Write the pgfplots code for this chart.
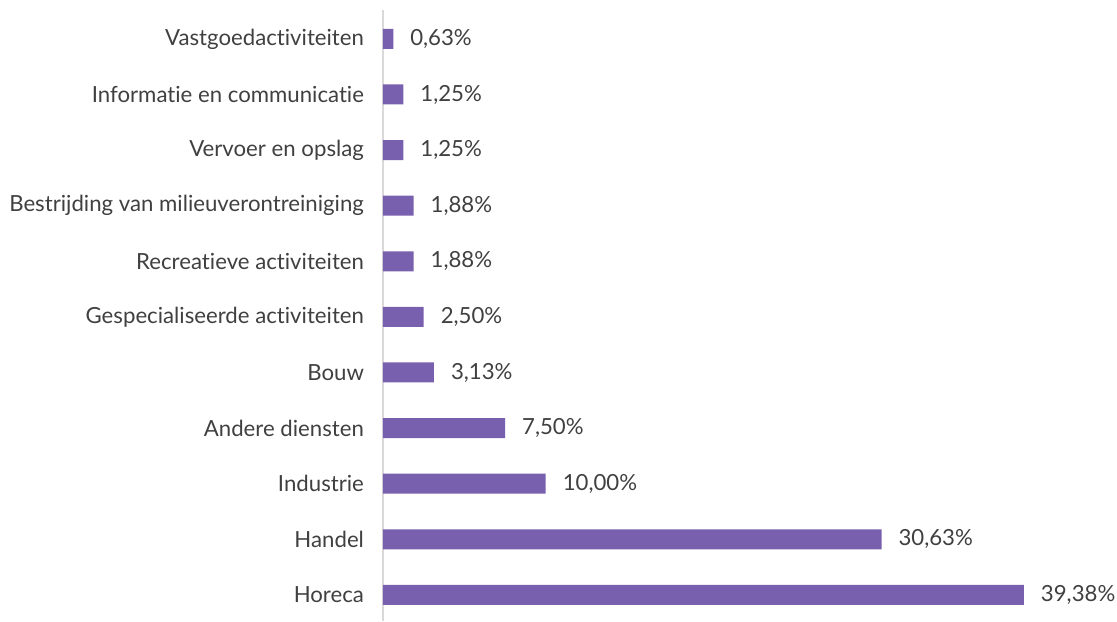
\documentclass[border=0pt]{standalone}
\usepackage{pgfplots}
\pgfplotsset{compat=1.18}
\usepackage{fontspec}
\setmainfont{Lato}[Ligatures=NoCommon]
\definecolor{barpurple}{HTML}{7860AE}
\definecolor{txtgray}{HTML}{404040}
\definecolor{axgray}{HTML}{D9D9D9}
\begin{document}
\begin{tikzpicture}[x=1pt,y=1pt]
\begin{axis}[
    at={(0,0)}, anchor=south west,
    scale only axis,
    width=325.5pt, height=305.5pt,
    xmin=0, xmax=40,
    ymin=-0.47, ymax=10.52,
    xbar, bar width=10pt,
    hide x axis,
    axis y line=left,
    y axis line style={draw=axgray, line width=0.8pt, -},
    ytick={0,...,10},
    yticklabels={Horeca, Handel, Industrie, Andere diensten, Bouw,
        Gespecialiseerde activiteiten, Recreatieve activiteiten,
        Bestrijding van milieuverontreiniging, Vervoer en opslag,
        Informatie en communicatie, Vastgoedactiviteiten},
    major tick length=0pt,
    yticklabel style={font=\fontsize{11.1}{13}\selectfont, text=txtgray},
    yticklabel shift=6pt,
    clip=false,
    point meta=explicit,
    /pgf/number format/assume math mode=true,
    nodes near coords={\pgfmathprintnumber[fixed,fixed zerofill,precision=2,use comma]{\pgfplotspointmeta}\%},
    nodes near coords style={font=\fontsize{11.1}{13}\selectfont, text=txtgray, anchor=west, xshift=5pt},
]
\addplot[fill=barpurple, draw=none] coordinates {
    (39.38,0) [39.38]
    (30.63,1) [30.63]
    (10.00,2) [10.00]
    (7.50,3) [7.50]
    (3.13,4) [3.13]
    (2.50,5) [2.50]
    (1.88,6) [1.88]
    (1.88,7) [1.88]
    (1.25,8) [1.25]
    (1.25,9) [1.25]
    (0.63,10) [0.63]
};
\end{axis}
\pgfresetboundingbox
\path (-191.5pt,0) rectangle (367pt,310.5pt);
\end{tikzpicture}
\end{document}
